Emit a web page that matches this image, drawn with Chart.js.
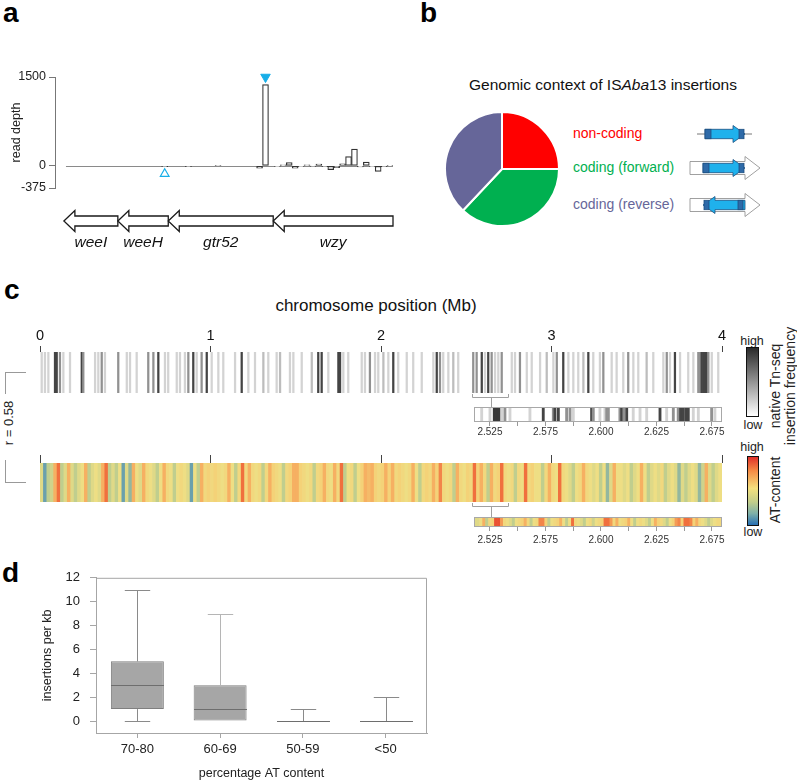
<!DOCTYPE html>
<html><head><meta charset="utf-8">
<script src="https://cdn.jsdelivr.net/npm/chart.js@4/dist/chart.umd.min.js"></script>
<style>
html,body{margin:0;padding:0;background:#fff}
body{position:relative;width:797px;height:781px;overflow:hidden;font-family:"Liberation Sans",Arial,Helvetica,sans-serif;color:#222}
canvas{position:absolute}
.t{position:absolute;white-space:nowrap;line-height:1}
.c{transform:translate(-50%,-50%)}
.m{transform:translateY(-50%)}
.v{transform:translate(-50%,-50%) rotate(-90deg)}
.L{font-weight:bold;font-size:28px;line-height:28px;color:#000}
.cb{position:absolute;border:1.5px solid #111;box-sizing:border-box}
.br{position:absolute;border-color:#999;border-style:solid;border-width:0}
</style></head><body>
<div class="t L" style="left:3px;top:-1px">a</div>
<div class="t L" style="left:420px;top:-1px">b</div>
<div class="t L" style="left:4px;top:276px">c</div>
<div class="t L" style="left:2px;top:559px">d</div>

<div class="t c" style="left:603px;top:85px;font-size:15.5px;color:#111">Genomic context of IS<i>Aba</i>13 insertions</div>
<div class="t m" style="left:573px;top:133px;font-size:14px;color:#ff0000">non-coding</div>
<div class="t m" style="left:573px;top:167px;font-size:14px;color:#00b050">coding (forward)</div>
<div class="t m" style="left:573px;top:204px;font-size:14px;color:#666699">coding (reverse)</div>
<svg style="position:absolute;left:680px;top:115px" width="90" height="105">
  <g stroke-width="0.8">
    <line x1="17" y1="19" x2="72" y2="19" stroke="#777" stroke-width="1"/>
    <polygon points="25,14.3 53,14.3 53,10.5 65,19 53,27.5 53,23.7 25,23.7" fill="#1fb1ec" stroke="#1d4f80"/>
    <rect x="25" y="14.3" width="6" height="9.4" fill="#2e6aa8" stroke="#1d4f80"/>
    <rect x="59" y="14.3" width="5" height="9.4" fill="#2e6aa8" stroke="#1d4f80"/>

    <polygon points="10,46.5 65,46.5 65,41.5 80,53 65,64.5 65,59.5 10,59.5" fill="#fff" stroke="#888"/>
    <polygon points="23,48.3 53,48.3 53,44.5 65,53 53,61.5 53,57.7 23,57.7" fill="#1fb1ec" stroke="#1d4f80"/>
    <rect x="23" y="48.3" width="6" height="9.4" fill="#2e6aa8" stroke="#1d4f80"/>
    <rect x="59" y="48.3" width="5" height="9.4" fill="#2e6aa8" stroke="#1d4f80"/>

    <polygon points="10,83.5 65,83.5 65,78.5 80,90 65,101.5 65,96.5 10,96.5" fill="#fff" stroke="#888"/>
    <polygon points="23,90 35,81.5 35,85.3 65,85.3 65,94.7 35,94.7 35,98.5" fill="#1fb1ec" stroke="#1d4f80"/>
    <rect x="24" y="85.3" width="5" height="9.4" fill="#2e6aa8" stroke="#1d4f80"/>
    <rect x="58" y="85.3" width="5" height="9.4" fill="#2e6aa8" stroke="#1d4f80"/>
  </g>
</svg>

<div class="t c" style="left:376px;top:305px;font-size:17px;color:#111">chromosome position (Mb)</div>
<div class="br" style="left:5px;top:372px;width:20px;height:21px;border-top-width:1px;border-left-width:1px"></div>
<div class="br" style="left:5px;top:460px;width:20px;height:22px;border-bottom-width:1px;border-left-width:1px"></div>
<div class="t v" style="left:8px;top:423px;font-size:13px;color:#222">r = 0.58</div>

<div class="t c" style="left:752px;top:341px;font-size:12.5px">high</div>
<div class="cb" style="left:746px;top:347px;width:13px;height:70px;background:linear-gradient(#2a2a2a,#ffffff)"></div>
<div class="t c" style="left:753px;top:425px;font-size:12.5px">low</div>
<div class="t v" style="left:775px;top:386px;font-size:14px">native Tn-seq</div>
<div class="t v" style="left:790px;top:386px;font-size:14px">insertion frequency</div>

<div class="t c" style="left:752px;top:447px;font-size:12.5px">high</div>
<div class="cb" style="left:747px;top:456px;width:12px;height:70px;background:linear-gradient(#e0302a 0%,#f58a45 20%,#f4e07e 46%,#c2cd8a 66%,#7fb0a8 83%,#2770b5 100%)"></div>
<div class="t c" style="left:753px;top:532px;font-size:12.5px">low</div>
<div class="t v" style="left:775px;top:490px;font-size:14px">AT-content</div>

<canvas id="cA" width="400" height="262" style="left:0;top:0"></canvas>
<canvas id="cB" width="116" height="116" style="left:444px;top:111px"></canvas>
<canvas id="cC1" width="797" height="130" style="left:0;top:280px"></canvas>
<canvas id="cC1i" width="290" height="42" style="left:440px;top:400px"></canvas>
<canvas id="cC2" width="797" height="80" style="left:0;top:440px"></canvas>
<canvas id="cC2i" width="290" height="42" style="left:440px;top:510px"></canvas>
<canvas id="cD" width="440" height="221" style="left:0;top:560px"></canvas>

<script>
// ===== Panel a: read depth per bin =====
const depthValues = [null,null,null,null,null,null,null,null,null,null,
  null,null,null,null,null,null,null,null,-15,null,
  null,null,-15,null,null,null,null,10,null,null,
  null,null,null,null,-40,1370,null,-10,15,55,
  -40,-10,15,-5,28,-15,-65,-30,35,157,
  281,-20,62,-10,-95,-15,5];
const depthTicks = [-375, 0, 1500];
const markerFilled = [{x:35, y:1500}];
const markerOpen = [{x:18, y:-135}];
const trackStart = 1.85;
const geneNames = ['weeI','weeH','gtr52','wzy'];
const geneStart = [1.5, 10.6, 19.1, 36.8];
const geneEnd = [10.6, 19.1, 36.8, 57];

// ===== Panel b =====
const pieLabels = ['non-coding','coding (forward)','coding (reverse)'];
const pieValues = [25, 37, 38];

// ===== Panel c: native Tn-seq insertion lines (Mb, relative level) =====
const insPos = [0.010,0.029,0.049,0.088,0.098,0.117,0.137,0.176,0.245,0.254,
  0.323,0.342,0.362,0.381,0.459,0.509,0.528,0.567,0.635,0.665,
  0.694,0.733,0.752,0.802,0.821,0.850,0.870,0.899,0.919,0.948,
  0.978,1.007,1.046,1.075,
  1.144,1.183,1.222,1.261,1.310,1.339,1.388,1.408,1.466,1.486,
  1.535,1.594,1.632,1.652,1.691,1.750,1.760,1.779,1.808,1.887,
  1.906,1.935,1.965,1.984,2.014,2.043,2.072,2.101,
  2.151,2.189,2.239,2.307,2.327,2.346,2.365,2.395,2.424,2.453,
  2.541,2.561,2.591,2.610,2.629,2.649,2.669,2.688,2.708,2.767,
  2.786,2.815,2.855,2.884,2.933,2.972,3.011,3.031,3.069,3.099,
  3.128,3.157,3.187,3.216,3.245,3.284,3.304,3.353,3.382,3.421,
  3.450,3.480,3.509,3.558,3.597,3.656,3.676,3.695,3.724,3.754,
  3.802,3.832,3.861,3.871,3.881,3.890,3.900,3.910,3.920,3.940,
  3.978];
const insLevel = [.2,.2,.2,.85,.85,.5,.2,.2,.85,.5,
  .2,.2,.5,.2,.5,.2,.2,.2,.5,.5,
  .85,.2,.2,.2,.2,.2,.5,.85,.2,.5,
  .85,.2,.2,.2,
  .2,.85,.2,.2,.3,.2,.2,.3,.2,.2,
  .2,.3,.85,.85,.2,.85,.85,.2,.2,.2,
  .2,.5,.2,.2,.3,.2,.85,.2,
  .2,.2,.2,.2,.85,.5,.2,.2,.3,.2,
  .5,.5,.85,.2,.85,.5,.2,.2,.5,.2,
  .2,.5,.2,.2,.2,.3,.2,.5,.85,.2,
  .2,.2,.3,.85,.2,.2,.5,.2,.2,.2,
  .5,.2,.2,.3,.2,.2,.5,.2,.85,.2,
  .2,.2,.5,.5,.85,.85,.85,.85,.5,.2,
  .2];
const mbTicks = [0,1,2,3,4];
const zoomRange = [2.534, 2.745];
const zoomPos = [2.5194,2.5250,2.5279,2.5291,2.5302,2.5313,2.5329,2.5351,2.5385,2.5520,
  2.5610,2.5678,2.5689,2.5712,2.5768,2.5791,2.5813,2.5937,2.5948,2.5993,
  2.6027,2.6039,2.6050,2.6128,2.6140,2.6155,2.6174,2.6218,2.6264,2.6309,
  2.6399,2.6444,2.6489,2.6522,2.6538,2.6556,2.6574,2.6590,2.6624,2.6658,
  2.6748,2.6770];
const zoomLevel = [.2,.2,.9,.9,.9,.9,.2,.5,.2,.2,
  .85,.5,.85,.85,.5,.5,.2,.85,.5,.2,
  .2,.5,.5,.5,.85,.5,.85,.2,.2,.2,
  .85,.2,.5,.5,.85,.85,.85,.85,.2,.2,
  .5,.2];
const zoomTicks = [2.525,2.54375,2.5625,2.58125,2.6,2.61875,2.6375,2.65625,2.675];
const zoomTickLabels = ['2.525','','2.575','','2.600','','2.625','','2.675'];

// AT content, 0.02 Mb bins (0 = low, 1 = high)
const atValues = [0.45,0.15,0.35,0.4,0.75,0.9,0.35,0.45,0.75,0.45,
  0.35,0.45,0.5,0.75,0.35,0.45,0.5,0.45,0.75,0.9,
  0.35,0.45,0.35,0.5,0.15,0.45,0.25,0.75,0.5,0.45,
  0.75,0.55,0.5,0.45,0.35,0.5,0.75,0.55,0.5,0.35,
  0.5,0.55,0.5,0.45,0.15,0.5,0.35,0.75,0.55,0.6,
  0.55,0.6,0.55,0.5,0.55,0.75,0.5,0.35,0.55,0.9,
  0.55,0.75,0.55,0.5,0.55,0.35,0.55,0.75,0.6,0.55,
  0.5,0.35,0.55,0.6,0.75,0.75,0.6,0.55,0.5,0.55,
  0.35,0.55,0.6,0.75,0.55,0.5,0.75,0.55,0.9,0.35,
  0.5,0.55,0.35,0.5,0.6,0.75,0.7,0.75,0.6,0.55,
  0.6,0.75,0.6,0.75,0.55,0.6,0.55,0.5,0.55,0.75,
  0.5,0.35,0.55,0.6,0.55,0.75,0.6,0.85,0.55,0.5,
  0.55,0.35,0.75,0.55,0.5,0.6,0.55,0.9,0.6,0.75,
  0.55,0.35,0.75,0.55,0.6,0.9,0.55,0.5,0.55,0.35,
  0.55,0.5,0.9,0.55,0.6,0.5,0.5,0.35,0.55,0.75,
  0.55,0.5,0.9,0.55,0.5,0.45,0.35,0.5,0.55,0.75,
  0.55,0.5,0.45,0.5,0.35,0.5,0.25,0.45,0.75,0.5,
  0.5,0.45,0.5,0.35,0.45,0.5,0.75,0.5,0.35,0.45,
  0.5,0.45,0.55,0.35,0.45,0.5,0.45,0.25,0.45,0.35,
  0.45,0.5,0.45,0.25,0.4,0.75,0.45,0.35,0.45,0.5];
const atBinMb = 0.02;
// AT content in zoom window, 0.002 Mb bins from 2.514 Mb
const zoomAt = [0.45,0.45,0.5,0.75,0.35,0.55,0.6,0.95,0.95,0.8,
  0.55,0.5,0.45,0.35,0.5,0.55,0.6,0.75,0.55,0.35,
  0.5,0.55,0.85,0.85,0.6,0.35,0.5,0.55,0.6,0.75,
  0.5,0.35,0.5,0.9,0.55,0.5,0.45,0.35,0.5,0.55,
  0.4,0.5,0.55,0.6,0.9,0.9,0.8,0.55,0.75,0.5,
  0.55,0.6,0.75,0.5,0.35,0.5,0.55,0.5,0.45,0.35,
  0.5,0.75,0.6,0.55,0.45,0.35,0.5,0.6,0.8,0.85,
  0.6,0.9,0.9,0.85,0.6,0.75,0.55,0.5,0.45,0.35,
  0.45,0.5,0.55,0.55];
const zoomAtStart = 2.514, zoomAtBin = 0.002;
const zoomMin = 2.5142, zoomMax = 2.6818;

// ===== Panel d: box plot =====
const boxCats = ['70-80','60-69','50-59','<50'];
const boxMin = [0,0,0,0];
const boxQ1 = [1,0,0,0];
const boxMed = [3,1,0,0];
const boxQ3 = [5,3,0,0];
const boxMax = [11,9,1,2];
const dTicks = [0,1,2,3,4,5,6,7,8,9,10,11,12];

// ===== helpers =====
Chart.defaults.font.family = '"Liberation Sans", Arial, Helvetica, sans-serif';
Chart.defaults.color = '#222';
Chart.defaults.animation = false;
const FONT = '"Liberation Sans", Arial, Helvetica, sans-serif';
const grey = v => { const g = Math.round(255 - v*220); return `rgb(${g},${g},${g})`; };
const stops = [[0,[50,125,182]],[0.2,[125,172,168]],[0.35,[192,206,142]],[0.5,[238,222,132]],[0.6,[244,210,120]],[0.75,[246,176,98]],[0.9,[240,112,62]],[1,[228,50,38]]];
function atColor(v){
  for(let i=1;i<stops.length;i++){
    if(v<=stops[i][0]){
      const [a0,c0]=stops[i-1],[a1,c1]=stops[i]; const t=(v-a0)/(a1-a0);
      const c=c0.map((x,k)=>Math.round(x+(c1[k]-x)*t));
      return `rgb(${c[0]},${c[1]},${c[2]})`;
    }
  }
  return 'rgb(228,50,38)';
}
const noLegend = {legend:{display:false}, tooltip:{enabled:false}};

// ===== Panel a chart =====
const genePlugin = {id:'genes',
  beforeDatasetsDraw(c){
    const {ctx, chartArea:a, scales:{x,y}} = c;
    const y0 = Math.round(y.getPixelForValue(0))+0.5;
    ctx.save(); ctx.strokeStyle='#8a8a8a'; ctx.lineWidth=1;
    ctx.beginPath(); ctx.moveTo(x.getPixelForValue(trackStart-0.5), y0); ctx.lineTo(a.right, y0); ctx.stroke(); ctx.restore();
  },
  afterDraw(c){
    const {ctx, chartArea:a, scales:{x}} = c;
    const yc = a.bottom + 33, bh = 5, hh = 10.5, hl = 11;
    ctx.save(); ctx.lineWidth=1.3; ctx.strokeStyle='#1a1a1a'; ctx.fillStyle='#fff'; ctx.lineJoin='miter';
    geneNames.forEach((g,i)=>{
      const tip = x.getPixelForValue(geneStart[i]-0.5), tail = x.getPixelForValue(geneEnd[i]-0.5);
      ctx.beginPath(); ctx.moveTo(tip,yc); ctx.lineTo(tip+hl,yc-hh); ctx.lineTo(tip+hl,yc-bh); ctx.lineTo(tail,yc-bh);
      ctx.lineTo(tail,yc+bh); ctx.lineTo(tip+hl,yc+bh); ctx.lineTo(tip+hl,yc+hh); ctx.closePath(); ctx.fill(); ctx.stroke();
    });
    ctx.fillStyle='#111'; ctx.font='italic 15.5px '+FONT; ctx.textAlign='center'; ctx.textBaseline='middle';
    geneNames.forEach((g,i)=>{
      const cx = (x.getPixelForValue(geneStart[i]-0.5)+x.getPixelForValue(geneEnd[i]-0.5))/2;
      ctx.fillText(g, cx, a.bottom+55);
    });
    ctx.restore();
  }};
new Chart(document.getElementById('cA'), {
  type:'bar',
  data:{labels: depthValues.map((_,i)=>i), datasets:[
    {type:'line', data:markerFilled, showLine:false, pointStyle:'triangle', rotation:180, pointRadius:5.5, pointBackgroundColor:'#17aee8', pointBorderColor:'#17aee8', clip:false},
    {type:'line', data:markerOpen, showLine:false, pointStyle:'triangle', pointRadius:5, pointBackgroundColor:'#fff', pointBorderColor:'#17aee8', pointBorderWidth:1.2, clip:false},
    {data:depthValues, backgroundColor:'#fff', borderColor:'#333', borderWidth:1.2, borderSkipped:false, categoryPercentage:1, barPercentage:1}
  ]},
  options:{responsive:false, animation:false, layout:{padding:{left:0,right:7,top:77,bottom:74}}, plugins:noLegend,
    scales:{
      x:{display:false},
      y:{min:-375, max:1500, afterFit:s=>{s.width=55}, afterBuildTicks:s=>{s.ticks=depthTicks.map(v=>({value:v}))},
        grid:{drawOnChartArea:false, tickLength:6, color:'#777'}, border:{color:'#777'},
        ticks:{padding:3, font:{size:12.5}, color:'#222', callback:v=>String(v)},
        title:{display:true, text:'read depth', font:{size:12.5}, color:'#222', padding:{top:9,bottom:0}}}
    }},
  plugins:[genePlugin]
});

// ===== Panel b chart =====
new Chart(document.getElementById('cB'), {
  type:'pie',
  data:{labels:pieLabels, datasets:[{data:pieValues, backgroundColor:['#ff0000','#00b050','#666699'], borderColor:'#fff', borderWidth:2}]},
  options:{responsive:false, animation:false, layout:{padding:0}, plugins:noLegend}
});

// ===== Panel c charts =====
function bracketPlugin(range, drop){
  return {id:'bracket', afterDraw(c){
    const {ctx, chartArea:a, scales:{x}} = c;
    const x1=Math.round(x.getPixelForValue(range[0]))+0.5, x2=Math.round(x.getPixelForValue(range[1]))+0.5, xm=Math.round((x1+x2)/2)+0.5;
    const yb=a.bottom+4.5;
    ctx.save(); ctx.strokeStyle='#a0a0a0'; ctx.lineWidth=1;
    ctx.beginPath(); ctx.moveTo(x1,a.bottom+1); ctx.lineTo(x1,yb); ctx.lineTo(x2,yb); ctx.lineTo(x2,a.bottom+1);
    ctx.moveTo(xm,yb); ctx.lineTo(xm,yb+drop); ctx.stroke(); ctx.restore();
  }};
}
const framePlugin = {id:'frame', afterDatasetsDraw(c){
  const {ctx, chartArea:a} = c;
  ctx.save(); ctx.strokeStyle='#a8a8a8'; ctx.lineWidth=1;
  ctx.strokeRect(Math.round(a.left)+0.5, Math.round(a.top)+0.5, Math.round(a.width)-1, Math.round(a.height)-1); ctx.restore();
}};

new Chart(document.getElementById('cC1'), {
  type:'bar',
  data:{datasets:[{data:insPos.map(p=>({x:p,y:1})), backgroundColor:insLevel.map(grey), barThickness:1.6, borderWidth:0}]},
  options:{responsive:false, animation:false, layout:{padding:{left:40,right:75,top:50,bottom:17}}, plugins:noLegend,
    scales:{
      x:{type:'linear', position:'top', offset:false, min:0, max:4, afterFit:s=>{s.height=22}, afterBuildTicks:s=>{s.ticks=mbTicks.map(v=>({value:v}))},
        ticks:{font:{size:14.5}, color:'#111', padding:1, maxRotation:0}, grid:{offset:false, drawOnChartArea:false, tickLength:6, color:'#444'}, border:{display:false}},
      y:{display:false, min:0, max:1}
    }},
  plugins:[bracketPlugin(zoomRange, 10)]
});

new Chart(document.getElementById('cC1i'), {
  type:'bar',
  data:{datasets:[{data:zoomPos.map(p=>({x:p,y:1})), backgroundColor:zoomLevel.map(grey), barThickness:2.2, borderWidth:0}]},
  options:{responsive:false, animation:false, layout:{padding:{left:34,right:8,top:7,bottom:0}}, plugins:noLegend,
    scales:{
      x:{type:'linear', offset:false, min:zoomMin, max:zoomMax, afterFit:s=>{s.height=20}, afterBuildTicks:s=>{s.ticks=zoomTicks.map(v=>({value:v}))},
        ticks:{font:{size:10}, color:'#333', padding:0, maxRotation:0, autoSkip:false, callback:(v,i)=>zoomTickLabels[i]},
        grid:{offset:false, drawOnChartArea:false, tickLength:4, color:'#999'}, border:{display:false}},
      y:{display:false, min:0, max:1}
    }},
  plugins:[framePlugin]
});

new Chart(document.getElementById('cC2'), {
  type:'bar',
  data:{datasets:[{data:atValues.map((v,i)=>({x:(i+0.5)*atBinMb, y:1})), backgroundColor:atValues.map(atColor), borderWidth:0, barPercentage:1, categoryPercentage:1}]},
  options:{responsive:false, animation:false, layout:{padding:{left:40,right:75,top:15,bottom:18}}, plugins:noLegend,
    scales:{
      x:{type:'linear', position:'top', offset:false, min:0, max:4, afterFit:s=>{s.height=8}, afterBuildTicks:s=>{s.ticks=mbTicks.map(v=>({value:v}))},
        ticks:{display:false}, grid:{offset:false, drawOnChartArea:false, tickLength:8, color:'#444'}, border:{display:false}},
      y:{display:false, min:0, max:1}
    }},
  plugins:[bracketPlugin(zoomRange, 11)]
});

new Chart(document.getElementById('cC2i'), {
  type:'bar',
  data:{datasets:[{data:zoomAt.map((v,i)=>({x:zoomAtStart+(i+0.5)*zoomAtBin, y:1})), backgroundColor:zoomAt.map(atColor), borderWidth:0, barPercentage:1, categoryPercentage:1}]},
  options:{responsive:false, animation:false, layout:{padding:{left:34,right:8,top:7,bottom:5}}, plugins:noLegend,
    scales:{
      x:{type:'linear', offset:false, min:zoomMin, max:zoomMax, afterFit:s=>{s.height=20}, afterBuildTicks:s=>{s.ticks=zoomTicks.map(v=>({value:v}))},
        ticks:{font:{size:10}, color:'#333', padding:3, maxRotation:0, autoSkip:false, callback:(v,i)=>zoomTickLabels[i]},
        grid:{offset:false, drawOnChartArea:false, tickLength:4, color:'#999'}, border:{display:false}},
      y:{display:false, min:0, max:1}
    }},
  plugins:[framePlugin]
});

// ===== Panel d chart =====
const whiskerColors = ['#8a8a8a','#b5b5b5','#8a8a8a','#8a8a8a'];
const boxPlugin = {id:'box', afterDatasetsDraw(c){
  const {ctx, chartArea:a, scales:{x,y}} = c;
  const meta = c.getDatasetMeta(0);
  ctx.save(); ctx.lineWidth=1;
  ctx.strokeStyle='#a6a6a6';
  ctx.beginPath(); ctx.moveTo(a.left, a.top+0.5); ctx.lineTo(a.right-0.5, a.top+0.5); ctx.lineTo(a.right-0.5, a.bottom); ctx.stroke();
  boxCats.forEach((_,i)=>{
    const cx = Math.round(x.getPixelForValue(i))+0.5;
    const w = meta.data[i].width, cap = w*0.24;
    ctx.strokeStyle = whiskerColors[i];
    ctx.beginPath();
    if (boxMax[i] > boxQ3[i]) {
      const yt = Math.round(y.getPixelForValue(boxMax[i]))+0.5;
      ctx.moveTo(cx, y.getPixelForValue(boxQ3[i])); ctx.lineTo(cx, yt);
      ctx.moveTo(cx-cap, yt); ctx.lineTo(cx+cap, yt);
    }
    if (boxMin[i] < boxQ1[i]) {
      const yb = Math.round(y.getPixelForValue(boxMin[i]))+0.5;
      ctx.moveTo(cx, y.getPixelForValue(boxQ1[i])); ctx.lineTo(cx, yb);
      ctx.moveTo(cx-cap, yb); ctx.lineTo(cx+cap, yb);
    }
    ctx.stroke();
    ctx.strokeStyle='#6e6e6e';
    const ym = Math.round(y.getPixelForValue(boxMed[i]))+0.5;
    ctx.beginPath(); ctx.moveTo(cx-w/2, ym); ctx.lineTo(cx+w/2, ym); ctx.stroke();
  });
  ctx.restore();
}};
new Chart(document.getElementById('cD'), {
  type:'bar',
  data:{labels:boxCats, datasets:[{data:boxCats.map((_,i)=>[boxQ1[i], boxQ3[i]]), backgroundColor:'#a6a6a6', borderColor:'#7f7f7f', borderWidth:1, borderSkipped:false, barPercentage:0.64, categoryPercentage:1}]},
  options:{responsive:false, animation:false, layout:{padding:{left:0,right:13,top:16,bottom:0}}, plugins:noLegend,
    scales:{
      x:{afterFit:s=>{s.height=48}, grid:{offset:false, drawOnChartArea:false, tickLength:5, color:'#a6a6a6'}, border:{color:'#a6a6a6'},
        ticks:{font:{size:13}, color:'#222', padding:4},
        title:{display:true, text:'percentage AT content', font:{size:12.5}, color:'#222', padding:{top:0,bottom:0}}},
      y:{min:-1, max:12, afterFit:s=>{s.width=96}, afterBuildTicks:s=>{s.ticks=dTicks.map(v=>({value:v}))},
        ticks:{font:{size:13}, color:'#222', padding:10, callback:v=>(v%2===0?String(v):'')},
        grid:{drawOnChartArea:false, tickLength:6, color:'#a6a6a6'}, border:{color:'#a6a6a6'},
        title:{display:true, text:'insertions per kb', font:{size:12.5}, color:'#222', padding:{top:40,bottom:0}}}
    }},
  plugins:[boxPlugin]
});
</script>
</body></html>
